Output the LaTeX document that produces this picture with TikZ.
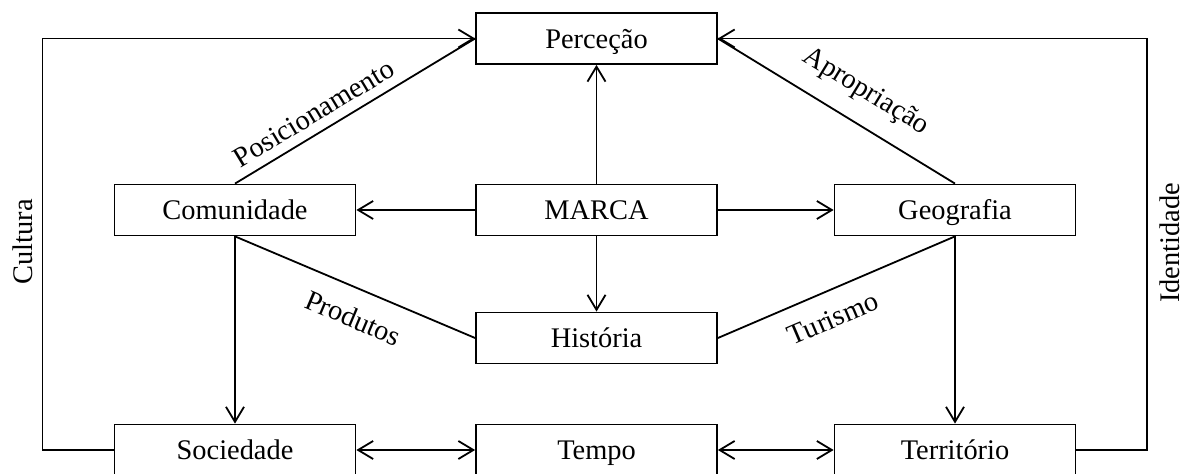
\documentclass[tikz,border=0pt]{standalone}
\usepackage{fontspec}
\setmainfont{Liberation Serif}
\usetikzlibrary{arrows.meta}
\begin{document}
\begin{tikzpicture}[x=0.5pt,y=-0.5pt,
  box/.style={draw, line width=0.9pt, minimum width=120.5pt, minimum height=25.5pt, inner sep=0pt, text height=12.5pt, text depth=2.5pt, font=\fontsize{14.2}{16}\selectfont},
  conn/.style={line width=0.9pt},
  arr/.style={conn, -{Straight Barb[length=7.5pt,width=9pt]}},
  darr/.style={conn, {Straight Barb[length=7.5pt,width=9pt]}-{Straight Barb[length=7.5pt,width=9pt]}},
  lbl/.style={font=\fontsize{14.2}{16}\selectfont, inner sep=0pt}]
\useasboundingbox (0,0) rectangle (1188,474);
\node[box] (perc) at (596.5,38.5) {Perceção};
\node[box] (com) at (235,210) {Comunidade};
\node[box] (marca) at (596.5,210) {MARCA};
\node[box] (geo) at (955,210) {Geografia};
\node[box] (hist) at (596.5,338) {História};
\node[box] (soc) at (235,450) {Sociedade};
\node[box] (tempo) at (596.5,450) {Tempo};
\node[box] (terr) at (955,450) {Território};
\coordinate (cl) at (42.5,38.5);
\coordinate (cr) at (1147,38.5);
\draw[arr] (soc.west) -| (cl) -- (perc.west);
\draw[arr] (terr.east) -| (cr) -- (perc.east);
\node[lbl, rotate=90, anchor=south] (cult) at (33,242) {Cultura};
\node[lbl, rotate=90, anchor=north] (ident) at (1159.5,243) {Identidade};
\draw[conn] (com.north) -- node[lbl, sloped, pos=0.37, above=4.5pt] (posl) {Posicionamento} (perc.west);
\draw[conn] (perc.east) -- node[lbl, sloped, pos=0.555, above=9pt] (apl) {Apropriação} (geo.north);
\draw[conn] (com.south) -- node[lbl, sloped, pos=0.54, below=9pt] (prl) {Produtos} (hist.west);
\draw[conn] (hist.east) -- node[lbl, sloped, pos=0.44, below=8.5pt] (tul) {Turismo} (geo.south);
\draw[arr] (marca.north) -- (perc.south);
\draw[arr] (marca.west) -- (com.east);
\draw[arr] (marca.east) -- (geo.west);
\draw[arr] (marca.south) -- (hist.north);
\draw[arr] (com.south) -- (soc.north);
\draw[arr] (geo.south) -- (terr.north);
\draw[darr] (soc.east) -- (tempo.west);
\draw[darr] (tempo.east) -- (terr.west);
\end{tikzpicture}
\end{document}
